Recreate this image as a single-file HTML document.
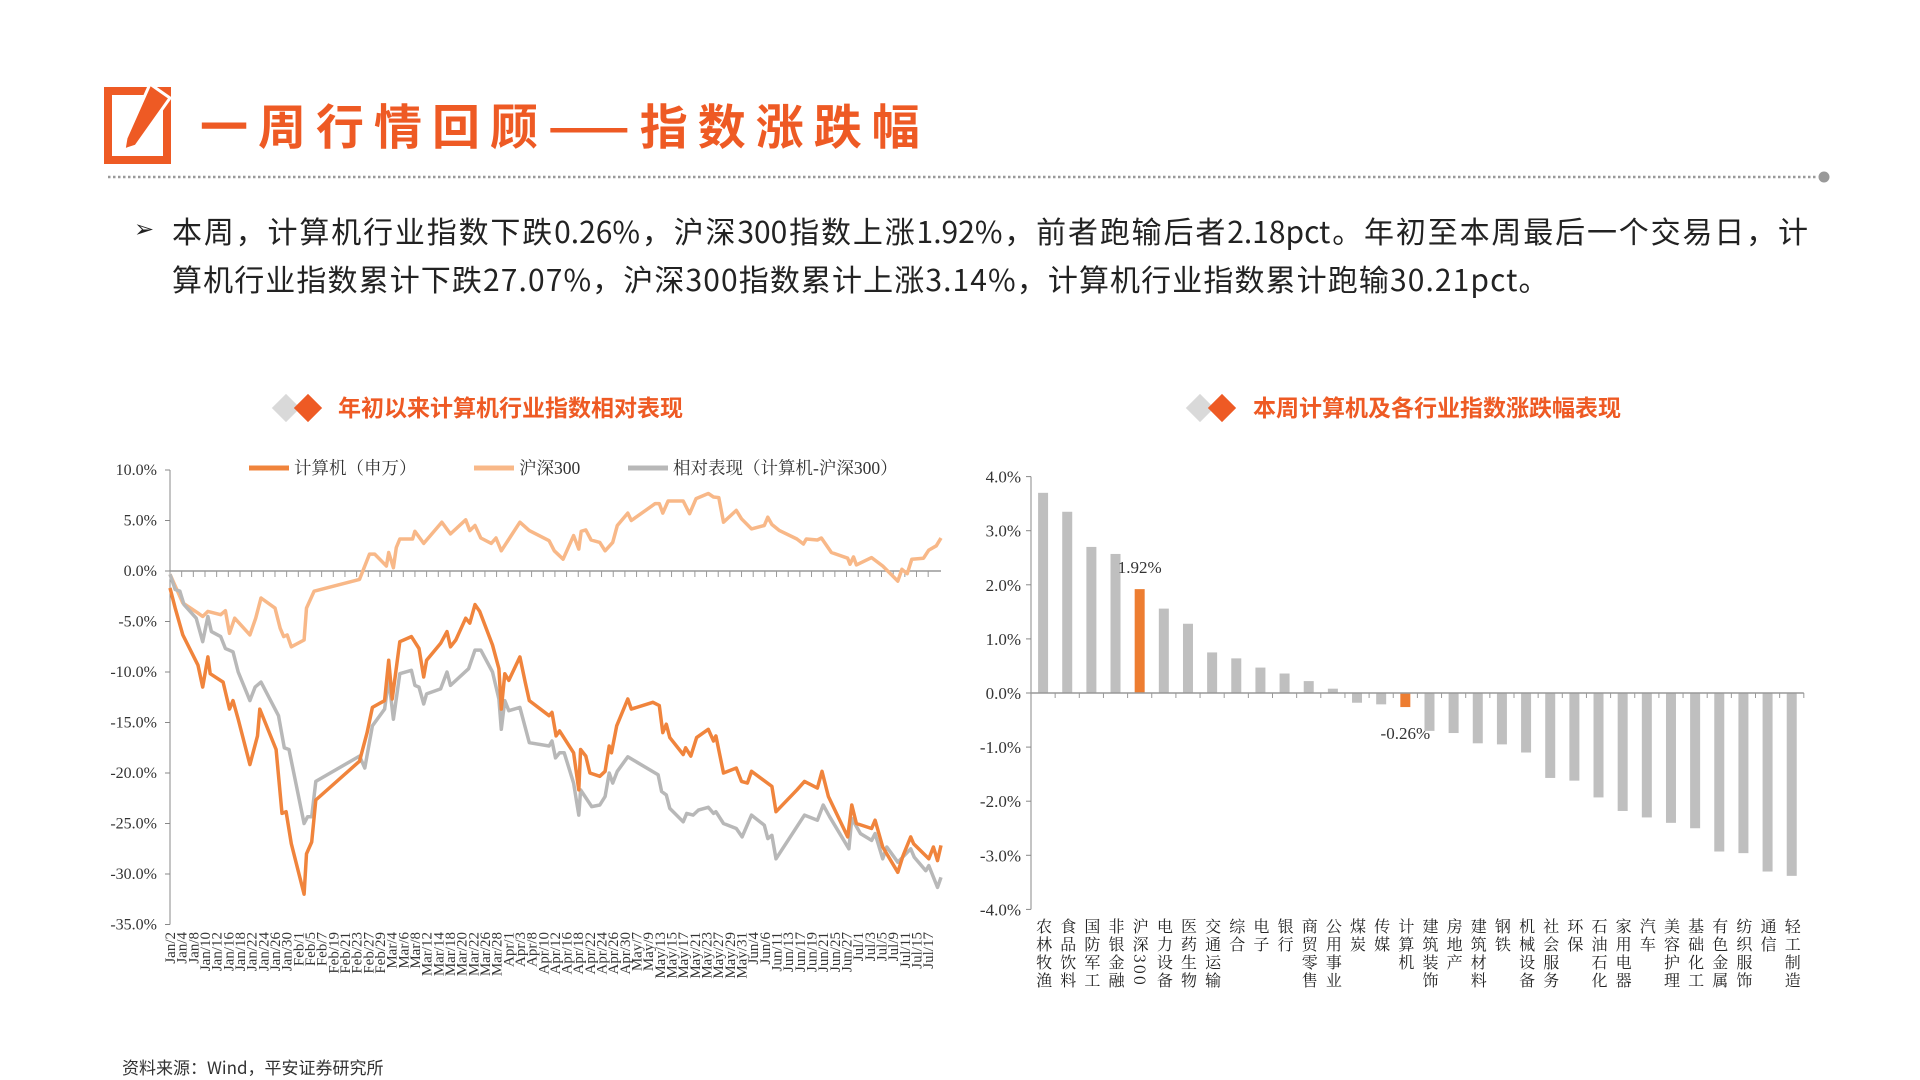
<!DOCTYPE html>
<html><head><meta charset="utf-8">
<style>
html,body{margin:0;padding:0;background:#fff;}
body{width:1920px;height:1080px;position:relative;overflow:hidden;font-family:"Liberation Sans","Noto Sans CJK SC",sans-serif;}
#title{position:absolute;left:200px;top:92px;font-size:48px;font-weight:bold;color:#EE5A24;letter-spacing:10px;font-family:"Noto Sans CJK SC",sans-serif;line-height:62px;}
.para{position:absolute;left:172px;width:1636px;font-size:30px;color:#222;font-family:"Noto Sans CJK SC",sans-serif;line-height:40px;white-space:nowrap;}
#p1{top:210px;text-align:justify;text-align-last:justify;white-space:normal;}
#p2{top:258px;letter-spacing:1.1px;}
#arrow{position:absolute;left:134px;top:210px;font-size:24px;line-height:40px;color:#222;}
#source{position:absolute;left:122px;top:1054px;font-size:17px;color:#333;font-family:"Noto Sans CJK SC",sans-serif;}
svg{position:absolute;left:0;top:0;}
</style></head>
<body>
<div id="arrow">➢</div>
<div id="title">一周行情回顾——指数涨跌幅</div>
<div class="para" id="p1">本周，计算机行业指数下跌0.26%，沪深300指数上涨1.92%，前者跑输后者2.18pct。年初至本周最后一个交易日，计</div>
<div class="para" id="p2">算机行业指数累计下跌27.07%，沪深300指数累计上涨3.14%，计算机行业指数累计跑输30.21pct。</div>
<div id="source">资料来源：Wind，平安证券研究所</div>
<svg id="svg" width="1920" height="1080">
  <g>
    <rect x="108" y="91" width="59" height="69" fill="none" stroke="#EE5A24" stroke-width="8"/>
    <polygon points="150,84 170,98 136,146 124,150 126,138" fill="#EE5A24" stroke="#fff" stroke-width="3"/>
  </g>
  <line x1="108" y1="177" x2="1818" y2="177" stroke="#999" stroke-width="2.5" stroke-dasharray="2.5,2.5"/>
  <circle cx="1824" cy="177" r="5.5" fill="#999"/>
  <g>
    <rect x="276" y="398" width="20" height="20" fill="#D9D9D9" transform="rotate(45 286 408)"/>
    <rect x="298" y="398" width="20" height="20" fill="#EE5A24" transform="rotate(45 308 408)"/>
    <text x="338" y="416" font-size="23" font-weight="bold" fill="#EE5A24" font-family="Noto Sans CJK SC, sans-serif">年初以来计算机行业指数相对表现</text>
  </g>
  <g>
    <rect x="1190" y="398" width="20" height="20" fill="#D9D9D9" transform="rotate(45 1200 408)"/>
    <rect x="1212" y="398" width="20" height="20" fill="#EE5A24" transform="rotate(45 1222 408)"/>
    <text x="1253" y="416" font-size="23" font-weight="bold" fill="#EE5A24" font-family="Noto Sans CJK SC, sans-serif">本周计算机及各行业指数涨跌幅表现</text>
  </g>
  <g id="left"></g>
  <g id="right"></g>
</svg>
<script>
// ---------- Line chart data ----------
const yTicksL = [10,5,0,-5,-10,-15,-20,-25,-30,-35];
const dateLabels = ["Jan/2","Jan/4","Jan/8","Jan/10","Jan/12","Jan/16","Jan/18","Jan/22","Jan/24","Jan/26","Jan/30","Feb/1","Feb/5","Feb/7","Feb/19","Feb/21","Feb/23","Feb/27","Feb/29","Mar/4","Mar/6","Mar/8","Mar/12","Mar/14","Mar/18","Mar/20","Mar/22","Mar/26","Mar/28","Apr/1","Apr/3","Apr/8","Apr/10","Apr/12","Apr/16","Apr/18","Apr/22","Apr/24","Apr/26","Apr/30","May/7","May/9","May/13","May/15","May/17","May/21","May/23","May/27","May/29","May/31","Jun/4","Jun/6","Jun/11","Jun/13","Jun/17","Jun/19","Jun/21","Jun/25","Jun/27","Jul/1","Jul/3","Jul/5","Jul/9","Jul/11","Jul/15","Jul/17"];
const compDays = [0,0.9,2.2,4.8,5.6,6.5,6.9,9.1,10.2,10.8,11.7,13.7,15,15.4,18.2,19.2,19.9,20.8,23,23.4,24.3,25,32.5,33.8,34.7,36.8,37.5,38.1,39.4,41.4,42.7,43.5,44,46.4,47.5,48.1,49,50.7,51.4,52.3,53.1,55.3,56.4,56.8,57.4,58.1,60,60.9,61.6,65,65.5,66.2,66.8,69.2,70.1,70.4,71.3,72,73.7,74.6,75.3,75.7,76.6,78.5,79.1,82.8,83.9,84.5,85.1,85.7,88,88.4,89.3,90.3,92.3,93.2,93.6,94.9,97.1,98,99,99.7,103.2,103.9,107.5,108.8,111,111.8,112.9,116.2,116.9,117.7,120.3,120.9,122.2,124.8,125.7,127,127.5,130.1,130.9,131.6,132.2];
const compVals = [-1.67,-3.67,-6.33,-9.33,-11.5,-8.5,-10.17,-11,-13.67,-12.83,-14.67,-19.17,-16.33,-13.67,-17.67,-24,-23.83,-27,-32,-28,-26.83,-22.67,-18.83,-16,-13.5,-12.83,-8.83,-12.67,-7,-6.5,-7.67,-10.5,-8.83,-7.17,-6,-7.5,-6.83,-4.67,-5.17,-3.33,-4,-7.33,-9.67,-13.67,-10.17,-10.83,-8.5,-11,-12.83,-14.33,-14,-16.33,-15.83,-18,-21.67,-17.67,-18.33,-20,-20.33,-19.83,-17.33,-18,-15.33,-12.67,-13.67,-13,-13.33,-16,-15.17,-16.5,-18.17,-17.5,-18.33,-16.5,-15.67,-16.83,-16.33,-20,-19.5,-20.83,-21,-19.83,-21.33,-23.83,-21.67,-20.83,-21.5,-19.83,-22.33,-26.33,-23.17,-25,-25.5,-24.67,-27.33,-29.83,-28.17,-26.33,-27,-28.5,-27.33,-28.67,-27.17];
const hsDays = [0,2.2,4.8,5.6,6.5,8.7,9.5,10.2,11.1,13.7,14.7,15.6,18,18.9,19.5,20.1,20.8,23,23.4,24.7,32.5,34.2,35.1,37.1,37.5,38.3,38.8,39.4,41.6,42,43.5,46.6,48.1,50.7,51.4,52.3,53.3,55.1,55.9,56.8,60,61.6,65,65.9,67.4,69.2,70.1,70.5,71.3,72.2,73.7,74.6,75.9,76.7,78.5,79.1,83.2,83.9,84.5,85.4,88,89.1,90.2,92.3,93.2,94.1,94.9,97.1,98,99.7,101.9,102.5,103.2,104.5,107.5,108.6,109.1,111,111.7,113.4,116.2,116.6,117.2,117.7,120.3,122.2,124.8,125.5,126.4,127.2,129.2,130.1,131.4,132.2];
const hsVals = [-0.33,-3.17,-4.17,-4.5,-4,-4.33,-3.93,-6.17,-4.67,-6.33,-4.67,-2.67,-3.67,-5.67,-6.5,-6.33,-7.5,-6.83,-3.67,-2,-0.83,1.67,1.67,0.5,1.83,0.33,2.33,3.17,3.17,3.93,2.73,4.83,3.67,5.07,4,4.5,3.27,2.73,3.27,2,4.83,4,3,2,1.17,3.5,2.17,3.93,4.07,3.07,2.83,2,2.83,4.5,5.73,5,6.67,6.67,5.73,6.93,6.93,5.67,7.17,7.67,7.33,7.27,4.83,6,5.17,4.17,4.5,5.33,4.6,4,3.17,2.67,3.17,3.07,3.27,1.83,1.27,0.67,1.4,0.6,1.33,0.5,-1,0.17,-0.27,1.17,1.27,2.07,2.5,3.27];
const relDays = [0,0.9,1.7,2.4,4.5,5.6,6.5,7.1,8.7,9.5,10.8,11.7,13.7,14.6,15.6,18.6,19.6,20.4,23,23.6,24.3,25,32.5,33.4,34.7,36.8,37.5,38.3,39.4,41.4,42,42.7,43.5,44,46.4,47.5,48.1,51.2,52.3,53.3,55.3,56.4,56.8,57.4,58.1,60,61.6,65,65.5,66.1,66.8,67.6,69.2,70.1,70.4,72.3,73.7,74.6,75.3,75.9,76.7,78.5,83.7,84.3,85.1,85.7,88,88.6,89.7,90.6,92.3,93.2,93.6,94.9,97.1,98.1,99.7,101.9,102.5,103.2,103.9,108.8,111,112,113.1,116.4,116.9,118.4,120.3,120.9,122.2,122.9,124.8,127,127.6,129.6,130.1,131.6,132.2];
const relVals = [-0.33,-1.83,-2,-3.33,-4.67,-7,-4.5,-6,-6.5,-7.67,-8,-10,-12.83,-11.5,-11,-14.33,-17.5,-17.67,-25,-24.33,-24.33,-20.83,-18.33,-19.5,-15.33,-13.67,-10.67,-14.67,-10.17,-9.83,-11.33,-11.5,-13.17,-12.17,-11.67,-10,-11.33,-9.67,-7.83,-7.83,-10,-12.67,-15.67,-12.83,-13.83,-13.5,-17,-17.33,-16.83,-18.5,-18,-18,-21,-24.17,-21.67,-23.33,-23.17,-22.33,-20,-21,-19.83,-18.4,-20.17,-21.83,-22.17,-23.5,-24.83,-24,-24.17,-23.67,-23.4,-24,-23.83,-25,-25.5,-26.33,-24.17,-25.17,-26.5,-26.17,-28.5,-24.17,-24.67,-23.17,-24.33,-27.5,-24.5,-26,-26.67,-26,-28.5,-27.33,-28.83,-27.5,-28.33,-29.67,-29.17,-31.33,-30.33];
const legendNames = ["计算机（申万）","沪深300","相对表现（计算机-沪深300）"];
// ---------- Bar chart data ----------
const industries = ["农林牧渔","食品饮料","国防军工","非银金融","沪深300","电力设备","医药生物","交通运输","综合","电子","银行","商贸零售","公用事业","煤炭","传媒","计算机","建筑装饰","房地产","建筑材料","钢铁","机械设备","社会服务","环保","石油石化","家用电器","汽车","美容护理","基础化工","有色金属","纺织服饰","通信","轻工制造"];
const changes = [3.7,3.35,2.7,2.57,1.92,1.56,1.28,0.75,0.64,0.47,0.36,0.22,0.08,-0.18,-0.21,-0.26,-0.7,-0.74,-0.93,-0.95,-1.1,-1.57,-1.62,-1.93,-2.18,-2.3,-2.4,-2.5,-2.93,-2.96,-3.3,-3.38];
const yTicksR = [4,3,2,1,0,-1,-2,-3,-4];
const highlights = ["沪深300","计算机"];

const NS="http://www.w3.org/2000/svg";
function mk(tag, attrs, parent, txt){const e=document.createElementNS(NS,tag);for(const k in attrs)e.setAttribute(k,attrs[k]);if(txt!==undefined)e.textContent=txt;parent.appendChild(e);return e;}
const serif="Liberation Serif, Noto Serif CJK SC, serif";

// ----- line chart -----
const L=document.getElementById('left');
const LX0=170,LX1=941,DMAX=132.2;
const xL=d=>LX0+d*(LX1-LX0)/DMAX;
const yL=v=>571-v*10.1;
let ax=mk('line',{x1:LX0,y1:yL(10),x2:LX0,y2:yL(-35),stroke:'#888','stroke-width':1},L);


yTicksL.forEach(t=>{
  let tk=mk('line',{x1:LX0-5,y1:yL(t),x2:LX0,y2:yL(t),stroke:'#888'},L);
  
  
  let tl=mk('text',{x:157,y:yL(t)+5,'text-anchor':'end','font-size':16,fill:'#333','font-family':serif},L,t.toFixed(1)+'%');
  
  
});
let zl=mk('line',{x1:LX0,y1:yL(0),x2:LX1,y2:yL(0),stroke:'#999','stroke-width':1.5},L);


dateLabels.forEach((lab,i)=>{
  const x=xL(i*2);
  let tk=mk('line',{x1:x,y1:yL(0),x2:x,y2:yL(0)+6,stroke:'#999'},L);
  
  
  let tl=mk('text',{x:0,y:0,'text-anchor':'end','font-size':15,fill:'#333','font-family':serif,transform:`translate(${x+5},932) rotate(-90)`},L,lab);
  
  
});
function series(days,vals,color,name){
  const d=days.map((dd,i)=>(i?'L':'M')+xL(dd).toFixed(1)+','+yL(vals[i]).toFixed(1)).join('');
  let p=mk('path',{d:d,fill:'none',stroke:color,'stroke-width':3.5,'stroke-linejoin':'round'},L);
  
  
}
series(hsDays,hsVals,'#F8B888','hs300-line');
series(relDays,relVals,'#B8B8B8','relative-line');
series(compDays,compVals,'#F0843C','computer-line');
const legColors=['#F0843C','#F8B888','#B8B8B8'];
const legX=[249,474,628];
legendNames.forEach((n,i)=>{
  let g=mk('g',{},L);
  
  
  mk('line',{x1:legX[i],y1:468,x2:legX[i]+40,y2:468,stroke:legColors[i],'stroke-width':5},g);
  mk('text',{x:legX[i]+45,y:474,'font-size':17.5,fill:'#333','font-family':serif},g,n);
});

// ----- bar chart -----
const R=document.getElementById('right');
const RX0=1031,BAND=24.15,RX1=RX0+BAND*industries.length;
const yR=v=>693-v*54.1;
let ay=mk('line',{x1:RX0,y1:yR(4),x2:RX0,y2:yR(-4),stroke:'#888'},R);


yTicksR.forEach(t=>{
  let tk=mk('line',{x1:RX0-5,y1:yR(t),x2:RX0,y2:yR(t),stroke:'#888'},R);
  
  
  let tl=mk('text',{x:1021,y:yR(t)+6,'text-anchor':'end','font-size':17,fill:'#333','font-family':serif},R,t.toFixed(1)+'%');
  
  
});
industries.forEach((n,i)=>{
  const cx=RX0+BAND*(i+0.5), v=changes[i];
  const hl=highlights.includes(n);
  let b=mk('rect',{x:cx-5,y:Math.min(yR(v),yR(0)),width:10,height:Math.abs(yR(v)-yR(0)),fill:hl?'#ED7D31':'#BFBFBF'},R);
  
  
  let tk=mk('line',{x1:RX0+BAND*(i+1),y1:yR(0),x2:RX0+BAND*(i+1),y2:yR(0)+5,stroke:'#999'},R);
  
  
  let tl=mk('text',{x:cx+1,y:918,'font-size':16,fill:'#222','font-family':'Noto Serif CJK SC, serif','writing-mode':'vertical-rl','letter-spacing':'2'},R,n);
  
  
  if(hl){
    let vl=mk('text',{x:cx,y:v>0?yR(v)-16:yR(v)+32,'text-anchor':'middle','font-size':17,fill:'#333','font-family':serif},R,v.toFixed(2)+'%');
    
    
  }
});
let bx=mk('line',{x1:RX0,y1:yR(0),x2:RX1,y2:yR(0),stroke:'#999','stroke-width':1.5},R);


</script>
</body></html>
